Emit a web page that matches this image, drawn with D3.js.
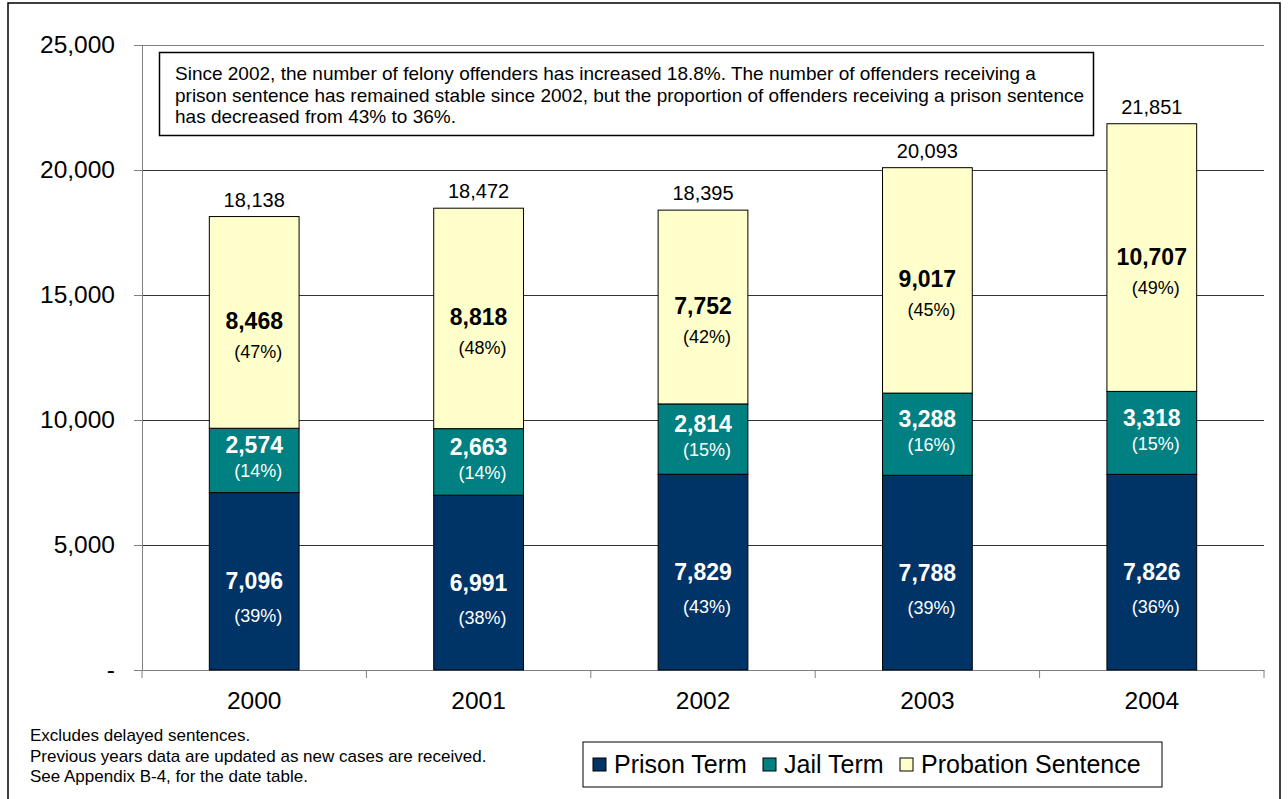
<!DOCTYPE html>
<meta charset="utf-8">
<script src="https://d3js.org/d3.v7.min.js"></script>
<style>
  body { margin: 0; background: #fff; }
  text { font-family: "Liberation Sans", Arial, sans-serif; }
</style>
<div id="chart"></div>
<script>

// data
var years = ["2000", "2001", "2002", "2003", "2004"];
var prison = [7096, 6991, 7829, 7788, 7826];
var jail = [2574, 2663, 2814, 3288, 3318];
var probation = [8468, 8818, 7752, 9017, 10707];
var prisonPct = ["(39%)", "(38%)", "(43%)", "(39%)", "(36%)"];
var jailPct = ["(14%)", "(14%)", "(15%)", "(16%)", "(15%)"];
var probationPct = ["(47%)", "(48%)", "(42%)", "(45%)", "(49%)"];
var totals = [18138, 18472, 18395, 20093, 21851];
var yTicks = [0, 5000, 10000, 15000, 20000, 25000];
var seriesNames = ["Prison Term", "Jail Term", "Probation Sentence"];
var colors = ["#003366", "#008080", "#FFFFCC"];
var note = [
  "Since 2002, the number of felony offenders has increased 18.8%. The number of offenders receiving a",
  "prison sentence has remained stable since 2002, but the proportion of offenders receiving a prison sentence",
  "has decreased from 43% to 36%."
];
var footnotes = [
  "Excludes delayed sentences.",
  "Previous years data are updated as new cases are received.",
  "See Appendix B-4, for the date table."
];

var W = 1288, H = 799;
var margin = {top: 45, right: 24, bottom: 129, left: 142};
var width = W - margin.left - margin.right,
    height = H - margin.top - margin.bottom;

var svg = d3.select("#chart").append("svg")
  .attr("width", W).attr("height", H);

// outer frame
svg.append("rect")
  .attr("x", 8).attr("y", 3).attr("width", 1272).attr("height", 820)
  .attr("fill", "none").attr("stroke", "#000").attr("stroke-width", 1.5);

var g = svg.append("g")
  .attr("transform", "translate(" + margin.left + "," + margin.top + ")");

var x = d3.scaleBand().domain(years).range([0, width]).paddingInner(0).paddingOuter(0);
var y = d3.scaleLinear().domain([0, 25000]).range([height, 0]);
var barW = x.bandwidth() * 0.4;

// gridlines
g.selectAll(".grid").data(yTicks.filter(function(d){ return d > 0; }))
  .enter().append("line")
  .attr("x1", 0).attr("x2", width)
  .attr("y1", function(d){ return Math.round(y(d)) + 0.5; })
  .attr("y2", function(d){ return Math.round(y(d)) + 0.5; })
  .attr("stroke", function(d){ return d === 25000 ? "#808080" : "#333"; })
  .attr("stroke-width", 1);

// y axis
var yAxis = g.append("g")
  .call(d3.axisLeft(y).tickValues(yTicks).tickSize(8).tickPadding(19)
    .tickFormat(function(d){ return d === 0 ? "-" : d3.format(",")(d); }));
yAxis.select(".domain").attr("stroke", "#808080");
yAxis.selectAll(".tick line").attr("stroke", "#808080");
yAxis.selectAll("text").attr("font-size", 24.5).attr("fill", "#000")
  .style("font-family", "'Liberation Sans', Arial, sans-serif");

// x axis
var xAxis = g.append("g")
  .attr("transform", "translate(0," + height + ")")
  .call(d3.axisBottom(x).tickSize(0).tickPadding(22));
xAxis.select(".domain").attr("stroke", "#808080");
xAxis.selectAll("text").attr("font-size", 24.5).attr("fill", "#000")
  .style("font-family", "'Liberation Sans', Arial, sans-serif");
// category boundary ticks
var bounds = d3.range(years.length + 1);
var bx = d3.scaleLinear().domain([0, years.length]).range([0, width]);
g.selectAll(".bt").data(bounds).enter().append("line")
  .attr("x1", function(d){ return bx(d); }).attr("x2", function(d){ return bx(d); })
  .attr("y1", height).attr("y2", height + 8)
  .attr("stroke", "#808080");

// stacked bars
var rows = years.map(function(yr, i){
  return {year: yr, prison: prison[i], jail: jail[i], probation: probation[i]};
});
var stack = d3.stack().keys(["prison", "jail", "probation"])(rows);

g.selectAll(".layer").data(stack).enter().append("g")
  .attr("fill", function(d, i){ return colors[i]; })
  .selectAll("rect").data(function(d){ return d; }).enter().append("rect")
  .attr("x", function(d){ return x(d.data.year) + (x.bandwidth() - barW) / 2; })
  .attr("y", function(d){ return y(d[1]); })
  .attr("width", barW)
  .attr("height", function(d){ return y(d[0]) - y(d[1]); })
  .attr("stroke", "#000").attr("stroke-width", 1);

// segment labels (baseline offsets from segment middle)
var labelSpec = [
  {pct: prisonPct, color: "#fff", dv: 8, dp: 41},
  {pct: jailPct, color: "#fff", dv: -7, dp: 17},
  {pct: probationPct, color: "#000", dv: 7, dp: 36}
];
stack.forEach(function(layer, k){
  var spec = labelSpec[k];
  layer.forEach(function(d, i){
    var cx = x(d.data.year) + x.bandwidth() / 2;
    var mid = (y(d[0]) + y(d[1])) / 2;
    g.append("text").attr("x", cx).attr("y", mid + spec.dv)
      .attr("text-anchor", "middle").attr("font-size", 23)
      .attr("font-weight", "bold").attr("fill", spec.color)
      .text(d3.format(",")(d[1] - d[0]));
    g.append("text").attr("x", cx + 4).attr("y", mid + spec.dp)
      .attr("text-anchor", "middle").attr("font-size", 18)
      .attr("fill", spec.color)
      .text(spec.pct[i]);
  });
});

// totals
g.selectAll(".total").data(totals).enter().append("text")
  .attr("x", function(d, i){ return x(years[i]) + x.bandwidth() / 2; })
  .attr("y", function(d){ return y(d) - 10; })
  .attr("text-anchor", "middle").attr("font-size", 20).attr("fill", "#000")
  .text(function(d){ return d3.format(",")(d); });

// annotation box
svg.append("rect")
  .attr("x", 159.5).attr("y", 52.5).attr("width", 934).attr("height", 83)
  .attr("fill", "#fff").attr("stroke", "#000").attr("stroke-width", 1.5);
svg.selectAll(".note").data(note).enter().append("text")
  .attr("x", 175).attr("y", function(d, i){ return 80 + i * 21.5; })
  .attr("font-size", 19).attr("fill", "#000")
  .text(function(d){ return d; });

// footnotes
svg.selectAll(".foot").data(footnotes).enter().append("text")
  .attr("x", 30).attr("y", function(d, i){ return 741 + i * 20.5; })
  .attr("font-size", 17).attr("fill", "#000")
  .text(function(d){ return d; });

// legend
var leg = svg.append("g").attr("transform", "translate(583,742)");
leg.append("rect").attr("width", 579).attr("height", 45)
  .attr("fill", "#fff").attr("stroke", "#000").attr("stroke-width", 1);
var legX = [10, 180, 317];
seriesNames.forEach(function(name, i){
  leg.append("rect").attr("x", legX[i]).attr("y", 16).attr("width", 13).attr("height", 13)
    .attr("fill", colors[i]).attr("stroke", "#000");
  leg.append("text").attr("x", legX[i] + 21).attr("y", 31)
    .attr("font-size", 25).attr("fill", "#000").text(name);
});

</script>
